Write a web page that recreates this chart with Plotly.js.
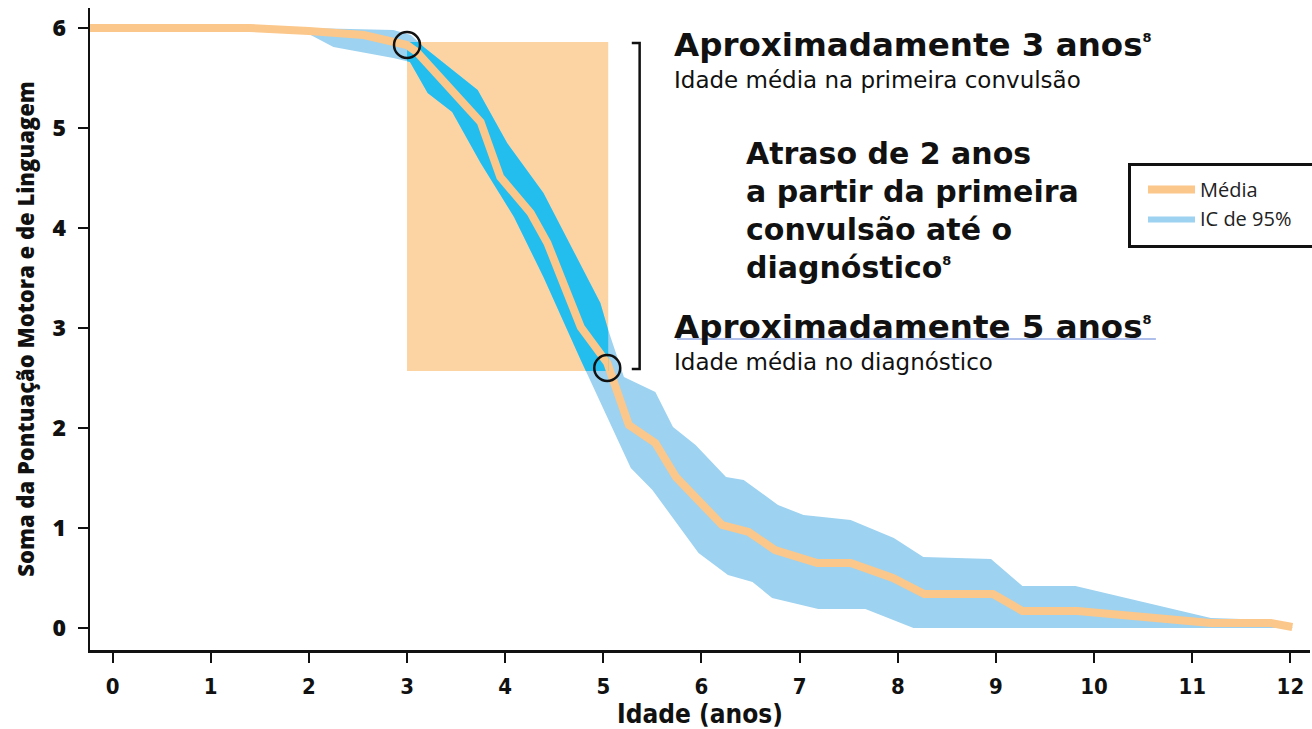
<!DOCTYPE html>
<html><head><meta charset="utf-8">
<script src="https://cdn.plot.ly/plotly-3.0.1.min.js"></script>
<style>html,body{margin:0;padding:0;background:#fff}#chart{width:1312px;height:729px}</style>
</head><body><div id="chart"></div>
<script>
// Mean curve
const meanAge   = [-0.23, 0, 1.4, 2.0, 2.56, 3.0, 3.10, 3.47, 3.75, 3.95, 4.26, 4.43, 4.77, 5.04, 5.26, 5.53, 5.74, 6.21, 6.48, 6.75, 7.18, 7.52, 7.95, 8.27, 8.97, 9.27, 9.83, 11.19, 11.80, 12.02];
const meanScore = [6, 6, 6, 5.97, 5.93, 5.83, 5.76, 5.36, 5.06, 4.51, 4.15, 3.85, 3.01, 2.65, 2.03, 1.85, 1.51, 1.03, 0.96, 0.78, 0.65, 0.65, 0.50, 0.34, 0.34, 0.17, 0.17, 0.05, 0.05, 0.01];
// 95% CI upper bound
const ciUpperAge = [0, 1.98, 2.86, 3.04, 3.17, 3.47, 3.72, 4.02, 4.39, 4.97, 5.05, 5.21, 5.53, 5.71, 5.94, 6.25, 6.43, 6.78, 7.04, 7.52, 7.96, 8.26, 8.95, 9.27, 9.81, 11.19, 11.80, 12.02];
const ciUpper    = [6, 6, 5.98, 5.93, 5.81, 5.58, 5.38, 4.85, 4.35, 3.25, 2.98, 2.51, 2.36, 2.01, 1.83, 1.51, 1.48, 1.23, 1.13, 1.08, 0.90, 0.71, 0.69, 0.42, 0.42, 0.10, 0.08, 0.01];
// 95% CI lower bound
const ciLowerAge = [0, 1.4, 1.98, 2.25, 2.86, 3.03, 3.21, 3.46, 3.75, 4.09, 4.39, 4.77, 5.28, 5.50, 5.97, 6.27, 6.52, 6.72, 7.19, 7.67, 8.16, 12.02];
const ciLower    = [6, 6, 5.95, 5.81, 5.70, 5.66, 5.35, 5.16, 4.65, 4.11, 3.51, 2.68, 1.60, 1.38, 0.75, 0.53, 0.46, 0.30, 0.19, 0.19, 0.0, 0.0];
// Milestones (first seizure, diagnosis) and highlighted window
const milestoneAge   = [3.0, 5.04];
const milestoneScore = [5.83, 2.60];
const windowAge   = [3.0, 5.05];
const windowScore = [2.57, 5.86];
const xTickVals = [0,1,2,3,4,5,6,7,8,9,10,11,12];
const yTickVals = [0,1,2,3,4,5,6];
const seriesNames = ['Média', 'IC de 95%'];
const seizureHead = 'Aproximadamente 3 anos', seizureSub = 'Idade média na primeira convulsão';
const diagHead = 'Aproximadamente 5 anos', diagSub = 'Idade média no diagnóstico';
const delayLines = ['Atraso de 2 anos', 'a partir da primeira', 'convulsão até o', 'diagnóstico'];
const refMark = '8';

const xRange = [-0.23, 12.2];
const yRange = [-0.22, 6.2];

const bandX = ciUpperAge.concat(ciLowerAge.slice().reverse());
const bandY = ciUpper.concat(ciLower.slice().reverse());

const ORANGE = '#FCC78A', LIGHTBLUE = '#9DD2F0', CYAN = '#23BEEE', RECT = '#FCD4A4';

const traces = [
  {x: bandX, y: bandY, type: 'scatter', mode: 'lines', fill: 'toself', fillcolor: LIGHTBLUE,
   line: {width: 0, color: LIGHTBLUE}, name: seriesNames[1], legendrank: 2, hoverinfo: 'skip'},
  {x: meanAge, y: meanScore, type: 'scatter', mode: 'lines', line: {color: ORANGE, width: 8},
   name: seriesNames[0], legendrank: 1, hoverinfo: 'skip'},
  {x: bandX, y: bandY, type: 'scatter', mode: 'lines', fill: 'toself', fillcolor: CYAN,
   line: {width: 0, color: CYAN}, xaxis: 'x2', yaxis: 'y2', showlegend: false, hoverinfo: 'skip'},
  {x: meanAge, y: meanScore, type: 'scatter', mode: 'lines', line: {color: ORANGE, width: 8},
   xaxis: 'x2', yaxis: 'y2', showlegend: false, hoverinfo: 'skip'}
];

const frac = (v, r) => (v - r[0]) / (r[1] - r[0]);

const SANS = '"Open Sans", "Noto Sans", sans-serif';
const DJ = '"DejaVu Sans", "Open Sans", sans-serif';
const COND = '"DejaVu Sans Condensed", "Liberation Sans Narrow", "Open Sans", sans-serif';
const tickFontX = {family: COND, size: 22, color: '#111', weight: 700, stretch: 'condensed'};
const tickFontY = {family: SANS, size: 23, color: '#111', weight: 800};

// plot-area helpers for paper coordinates (legend box)
const PL = 90, PR = 1310, PT = 8, PB = 650;
const px2paperX = p => (p - PL) / (PR - PL);
const px2paperY = p => (PB - p) / (PB - PT);

const shapes = [
  {type: 'rect', xref: 'x', yref: 'y', x0: windowAge[0], x1: windowAge[1], y0: windowScore[0], y1: windowScore[1],
   fillcolor: RECT, line: {width: 0}, layer: 'below'},
  // bracket
  {type: 'path', xref: 'x', yref: 'y', layer: 'above',
   path: 'M 5.29 5.85 L 5.37 5.85 L 5.37 2.59 L 5.29 2.59', line: {color: '#111', width: 2.5}},
  // underline under "Aproximadamente 5 anos"
  {type: 'line', xref: 'x', yref: 'y', x0: 5.75, x1: 10.63, y0: 2.89, y1: 2.89, line: {color: '#5d7fd8', width: 1}, layer: 'above'},
  // legend frame
  {type: 'rect', xref: 'paper', yref: 'paper', x0: px2paperX(1129.5), x1: px2paperX(1318), y0: px2paperY(246.5), y1: px2paperY(164.5),
   fillcolor: '#fff', line: {color: '#111', width: 3}, layer: 'above'}
];
milestoneAge.forEach((a, i) => shapes.push({
  type: 'circle', xref: 'x', yref: 'y', xsizemode: 'pixel', ysizemode: 'pixel',
  xanchor: a, yanchor: milestoneScore[i], x0: -13, x1: 13, y0: -13, y1: 13,
  line: {color: '#111', width: 2.5}, layer: 'above'
}));

const sup = '<sup><span style="font-size:13px">' + refMark + '</span></sup>';
const head = (t, size) => '<span style="font-size:' + size + 'px;font-weight:700">' + t + sup + '</span>';
const body = t => '<span style="font-size:23px;font-weight:400">' + t + '</span>';
const ann = (x, y, text, size) => ({xref: 'x', yref: 'y', x: x, y: y, xanchor: 'left', yanchor: 'middle',
  showarrow: false, align: 'left', text: text, font: {family: DJ, size: size, color: '#111', weight: 400}});

const delayText = delayLines.map((t, i) => '<span style="font-size:30px;font-weight:700">' + t +
  (i === delayLines.length - 1 ? sup : '') + '</span>').join('<br>');

const annotations = [
  ann(5.70, 5.69, head(seizureHead, 32.5) + '<br>' + body(seizureSub), 24.6),
  ann(5.70, 2.87, head(diagHead, 32.5) + '<br>' + body(diagSub), 24.6),
  ann(6.43, 4.18, delayText, 29.2)
];

const layout = {
  width: 1312, height: 729,
  margin: {l: 90, r: 2, t: 8, b: 79, pad: 0},
  paper_bgcolor: '#fff', plot_bgcolor: 'rgba(0,0,0,0)',
  showlegend: true,
  legend: {x: px2paperX(1143), y: px2paperY(170), xanchor: 'left', yanchor: 'top', itemwidth: 47,
    borderwidth: 0, bgcolor: 'rgba(0,0,0,0)', traceorder: 'normal', tracegroupgap: 0,
    font: {family: SANS, size: 20, color: '#222'}},
  xaxis: {range: xRange, autorange: false, showgrid: false, zeroline: false,
    showline: true, linecolor: '#111', linewidth: 2.5, ticks: 'outside', ticklen: 10, tickwidth: 2, tickcolor: '#111',
    tickvals: xTickVals, ticktext: xTickVals.map(String), tickfont: tickFontX, ticklabelstandoff: 5,
    title: {text: 'Idade (anos)', font: {family: COND, size: 26, color: '#111', weight: 700, stretch: 'condensed'}, standoff: 4}},
  yaxis: {range: yRange, autorange: false, showgrid: false, zeroline: false,
    showline: true, linecolor: '#111', linewidth: 2.5, ticks: 'outside', ticklen: 10, tickwidth: 2, tickcolor: '#111',
    tickvals: yTickVals, ticktext: yTickVals.map(String), tickfont: tickFontY, ticklabelstandoff: 7,
    title: {text: 'Soma da Pontuação Motora e de Linguagem', font: {family: SANS, size: 22, color: '#111', weight: 800}, standoff: 12}},
  xaxis2: {domain: [frac(windowAge[0], xRange), frac(windowAge[1], xRange)], range: windowAge, autorange: false,
    visible: false, anchor: 'y2', fixedrange: true},
  yaxis2: {domain: [frac(windowScore[0], yRange), frac(windowScore[1], yRange)], range: windowScore, autorange: false,
    visible: false, anchor: 'x2', fixedrange: true},
  shapes: shapes,
  annotations: annotations
};

Plotly.newPlot('chart', traces, layout, {displayModeBar: false, staticPlot: true});
</script></body></html>
